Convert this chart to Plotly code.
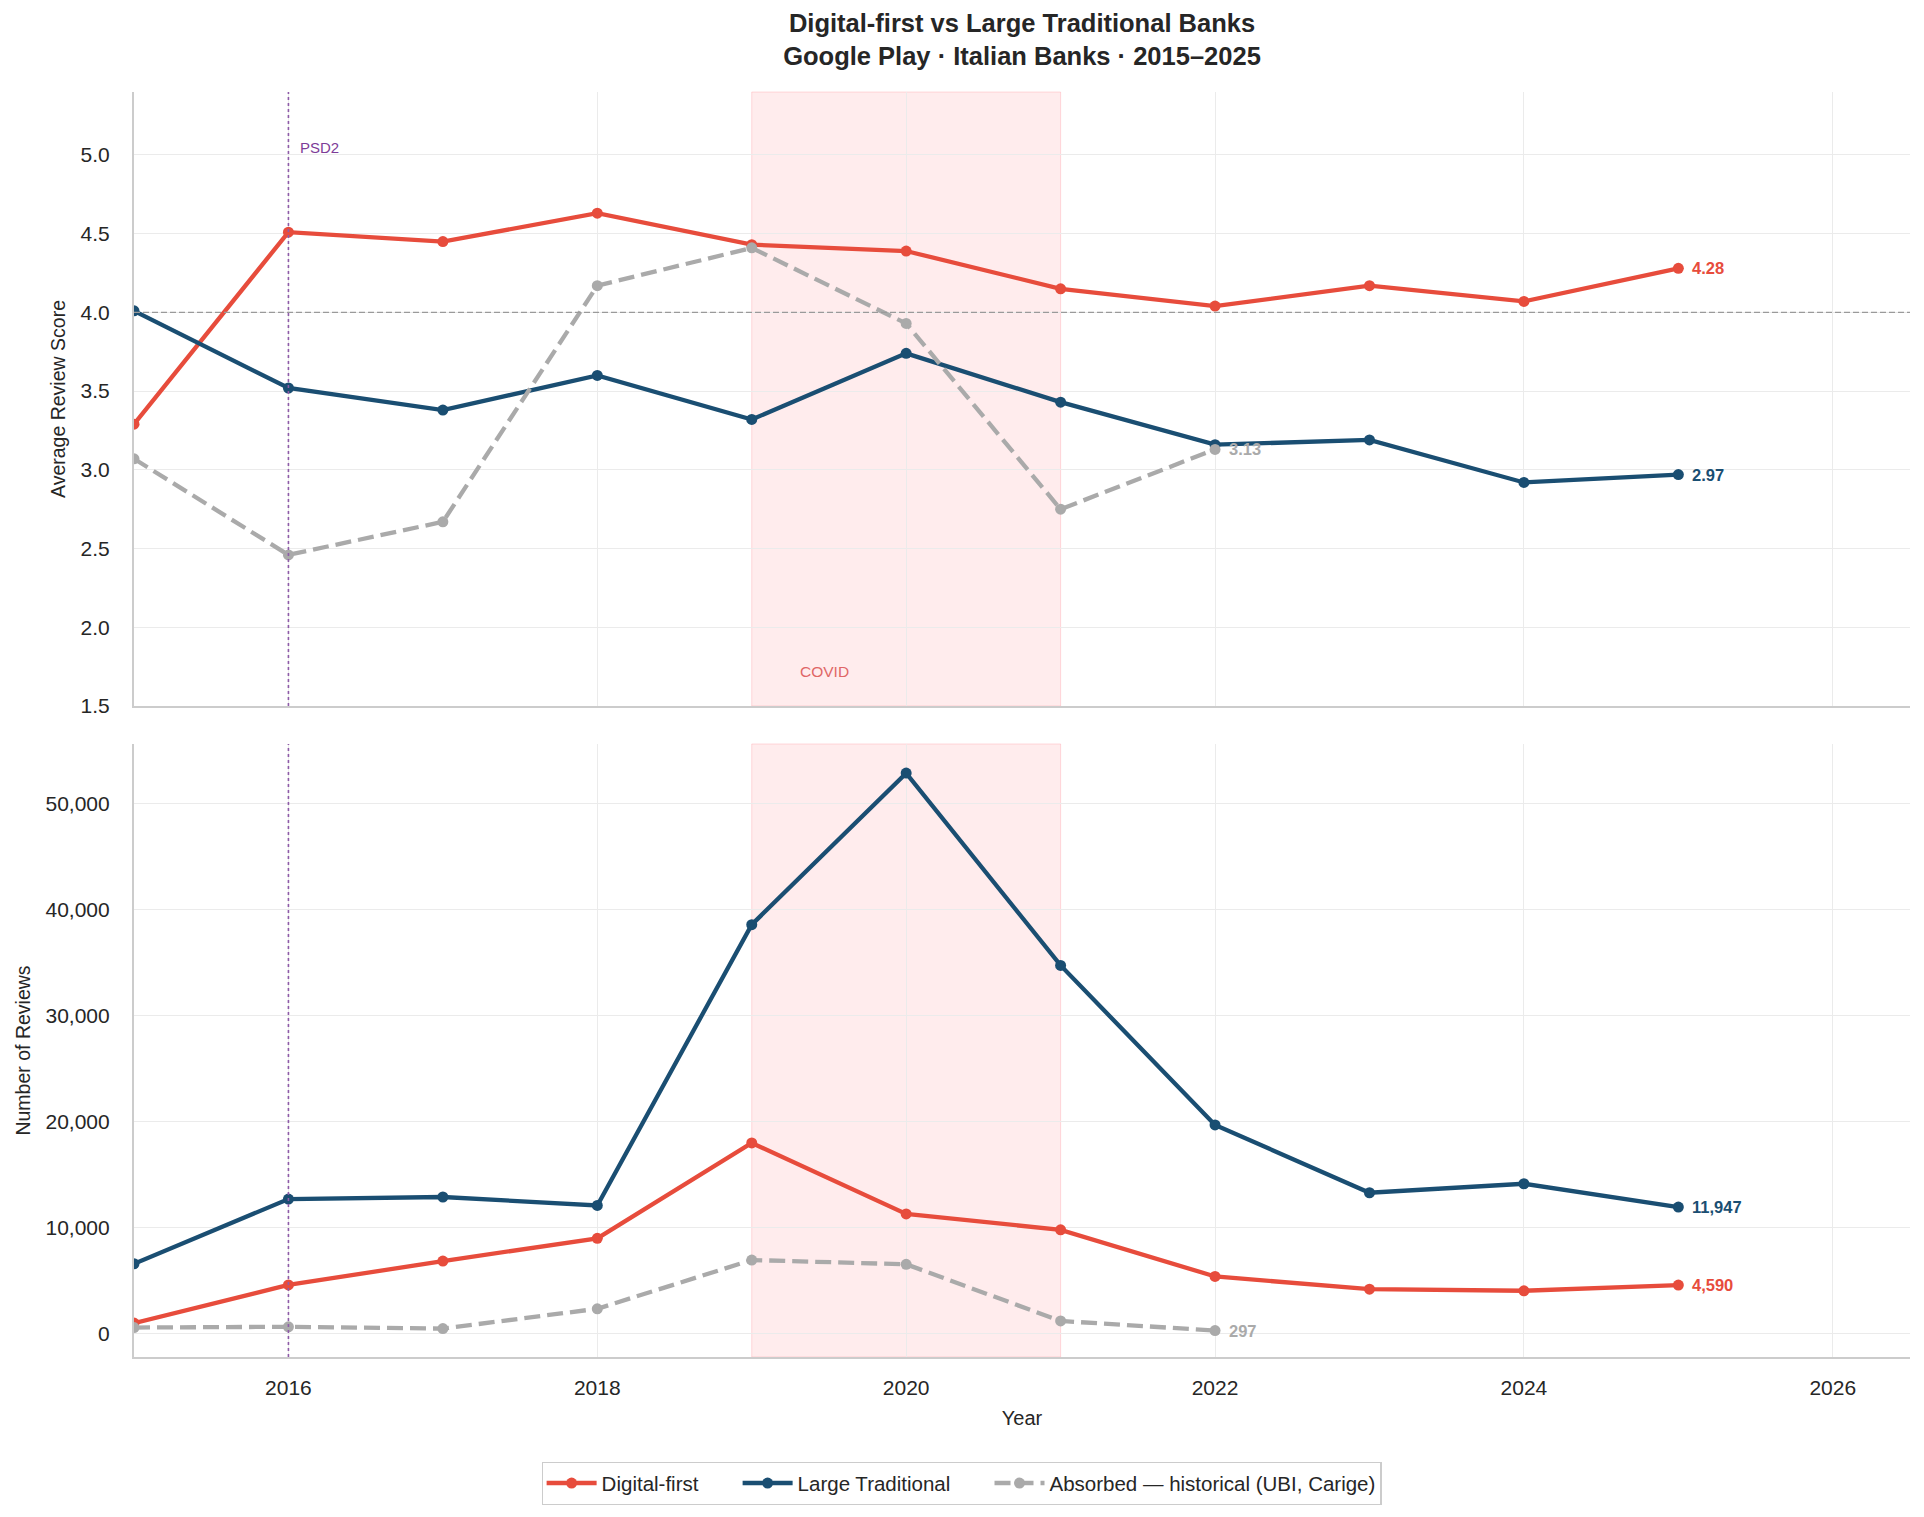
import plotly.graph_objects as go
from plotly.subplots import make_subplots

years = [2015, 2016, 2017, 2018, 2019, 2020, 2021, 2022, 2023, 2024, 2025]
absorbed_years = [2015, 2016, 2017, 2018, 2019, 2020, 2021, 2022]

digital_score = [3.29, 4.51, 4.45, 4.63, 4.43, 4.39, 4.15, 4.04, 4.17, 4.07, 4.28]
traditional_score = [4.01, 3.52, 3.38, 3.60, 3.32, 3.74, 3.43, 3.16, 3.19, 2.92, 2.97]
absorbed_score = [3.07, 2.46, 2.67, 4.17, 4.41, 3.93, 2.75, 3.13]

digital_reviews = [1000, 4600, 6850, 9000, 18000, 11300, 9800, 5400, 4200, 4050, 4590]
traditional_reviews = [6600, 12700, 12900, 12100, 38600, 52900, 34750, 19700, 13300, 14150, 11947]
absorbed_reviews = [580, 650, 480, 2350, 6950, 6550, 1200, 297]

series_names = ["Digital-first", "Large Traditional", "Absorbed — historical (UBI, Carige)"]

RED = "#E74C3C"
NAVY = "#1A4E72"
GRAY = "#AAAAAA"
TXT = "#262626"
FONT = "Liberation Sans, Arial, sans-serif"
PAD = "\u00a0" * 6

fig = make_subplots(rows=2, cols=1, shared_xaxes=True, vertical_spacing=0.03)

series = [
    (series_names[0] + PAD, RED, "solid", digital_score, digital_reviews, years),
    (series_names[1] + PAD, NAVY, "solid", traditional_score, traditional_reviews, years),
    (series_names[2], GRAY, "16px,7px", absorbed_score, absorbed_reviews, absorbed_years),
]

for name, color, dash, sc, rv, xs in series:
    fig.add_trace(go.Scatter(x=xs, y=sc, mode="lines+markers", name=name,
                             line=dict(color=color, width=4.3, dash=dash),
                             marker=dict(color=color, size=11), legendgroup=name,
                             showlegend=True), row=1, col=1)
    fig.add_trace(go.Scatter(x=xs, y=rv, mode="lines+markers", name=name,
                             line=dict(color=color, width=4.3, dash=dash),
                             marker=dict(color=color, size=11), legendgroup=name,
                             showlegend=False), row=2, col=1)

# COVID shading and PSD2 line
for r in (1, 2):
    fig.add_vrect(x0=2019, x1=2021, fillcolor="rgba(255,80,90,0.11)",
                  line=dict(color="rgba(255,120,130,0.25)", width=1), layer="below", row=r, col=1)
    fig.add_vline(x=2016, line=dict(color="#8E5BA8", width=1.6, dash="dot"), row=r, col=1)

fig.add_hline(y=4.0, line=dict(color="#9A9A9A", width=1.2, dash="6px,3px"), row=1, col=1)

annotations = [
    dict(x=2016, y=5.05, xref="x", yref="y", text="PSD2", showarrow=False, xanchor="left",
         xshift=10, font=dict(color="#7D3C98", size=15, family=FONT)),
    dict(x=2019.3, y=1.72, xref="x", yref="y", text="COVID", showarrow=False, xanchor="left",
         font=dict(color="#E06666", size=15.5, family=FONT)),
]
end_labels = [
    (2025, digital_score[-1], "4.28", RED, "y"),
    (2025, traditional_score[-1], "2.97", NAVY, "y"),
    (2022, absorbed_score[-1], "3.13", GRAY, "y"),
    (2025, traditional_reviews[-1], "11,947", NAVY, "y2"),
    (2025, digital_reviews[-1], "4,590", RED, "y2"),
    (2022, absorbed_reviews[-1], "297", GRAY, "y2"),
]
for x, y, t, c, yr in end_labels:
    annotations.append(dict(x=x, y=y, xref="x" if yr == "y" else "x2", yref=yr, text="<b>" + t + "</b>",
                            showarrow=False, xanchor="left", xshift=12,
                            font=dict(color=c, size=16.5, family=FONT)))

axis_common = dict(showline=True, linecolor="#CCCCCC", linewidth=2.2, showgrid=True,
                   gridcolor="#EBEBEB", gridwidth=1.2, zeroline=False, ticks="outside",
                   tickcolor="rgba(0,0,0,0)",
                   tickfont=dict(size=21, color=TXT, family=FONT))

fig.update_xaxes(range=[2015, 2026.5], dtick=2, tick0=2016, ticklen=11, **axis_common)
fig.update_xaxes(title=dict(text="Year", font=dict(size=20, color=TXT, family=FONT), standoff=13), row=2, col=1)
fig.update_yaxes(ticklen=18, **axis_common)
fig.update_yaxes(range=[1.5, 5.4], dtick=0.5, tickformat=".1f",
                 title=dict(text="Average Review Score", font=dict(size=19.5, color=TXT, family=FONT), standoff=10),
                 row=1, col=1)
fig.update_yaxes(range=[-2200, 55650], dtick=10000, tickformat=",",
                 title=dict(text="Number of Reviews", font=dict(size=19.5, color=TXT, family=FONT), standoff=10),
                 row=2, col=1)

fig.update_layout(
    width=1924, height=1517,
    margin=dict(l=134, r=14, t=92, b=156),
    paper_bgcolor="white", plot_bgcolor="white",
    title=dict(text="<b>Digital-first vs Large Traditional Banks<br>Google Play · Italian Banks · 2015–2025</b>",
               xref="paper", x=0.5, xanchor="center", y=0.979, yanchor="middle",
               font=dict(size=25.5, color=TXT, family=FONT)),
    legend=dict(orientation="h", x=0.466, xanchor="center", y=-0.083, yanchor="top",
                bordercolor="#CCCCCC", borderwidth=1.2, font=dict(size=20.5, color=TXT, family=FONT),
                itemwidth=50, tracegroupgap=0),
    annotations=annotations,
    showlegend=True,
)

fig.update_layout(yaxis=dict(domain=[0.5146, 1.0]), yaxis2=dict(domain=[0.0, 0.4846]))

fig.write_html("out.html")
